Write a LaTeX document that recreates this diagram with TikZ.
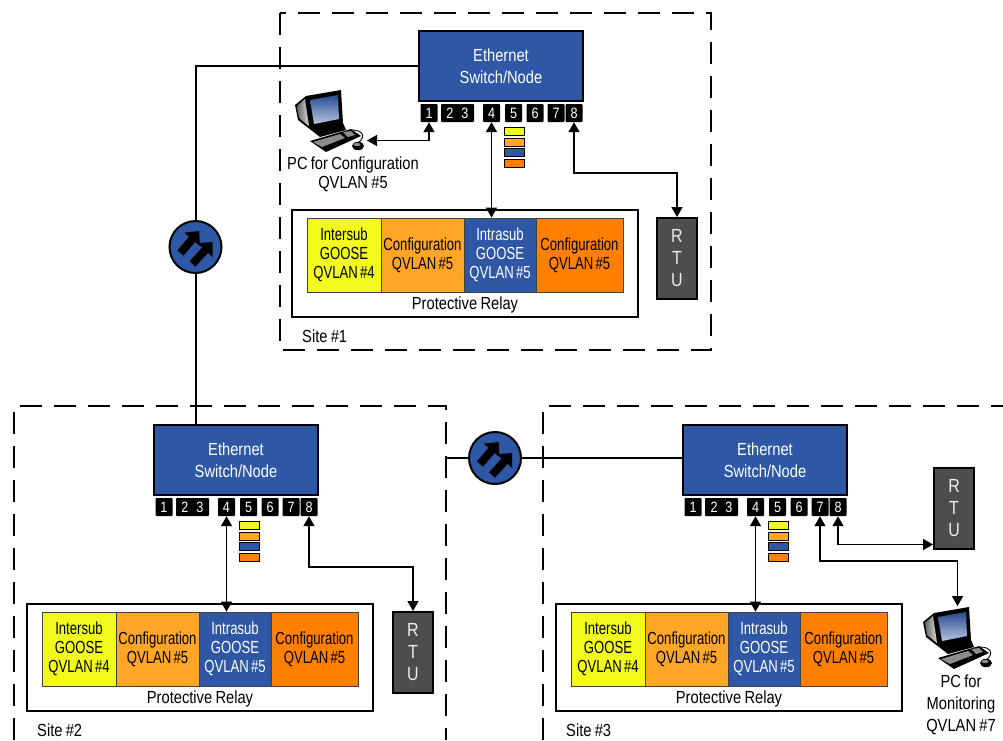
\documentclass[tikz,border=0pt]{standalone}
\usepackage{fontspec}
\setmainfont[FakeStretch=0.84,WordSpace=0.8]{Liberation Sans}
\newfontfamily\cellfont[FakeStretch=0.75,WordSpace=0.6]{Liberation Sans}
\usetikzlibrary{arrows.meta,calc}
\definecolor{swblue}{HTML}{2E57A6}
\definecolor{cyellow}{HTML}{F2FA1C}
\definecolor{clight}{HTML}{FFA626}
\definecolor{corange}{HTML}{FF7F00}
\definecolor{rtugray}{HTML}{4D4D4D}
\tikzset{
  sitebox/.style={line width=2.5pt,dash pattern=on 22pt off 12pt},
  switchbox/.style={draw=black,line width=2pt,fill=swblue,minimum width=164pt,minimum height=70pt,inner sep=0pt,text=white,align=center,font=\fontsize{17.5}{22}\selectfont},
  portbox/.style={fill=black,rounded corners=0.8pt,text=white,minimum height=18pt,inner sep=0pt,font=\fontsize{15}{16}\selectfont},
  minibar/.style={draw=black,line width=0.9pt,minimum width=20pt,minimum height=7.5pt,inner sep=0pt},
  relaybox/.style={draw=black,line width=2.5pt,fill=white,minimum width=346pt,minimum height=107pt,inner sep=0pt},
  cellbox/.style={draw=black!75,line width=0.8pt,minimum height=74pt,inner sep=0pt,align=center,font=\cellfont\fontsize{17.5}{19}\selectfont},
  plain label/.style={inner sep=0pt,align=center,font=\fontsize{17.5}{19}\selectfont},
  rtubox/.style={draw=black,line width=2pt,fill=rtugray,text=white!92!black,minimum width=40pt,minimum height=81pt,inner sep=0pt,align=center,font=\fontsize{19}{22}\selectfont},
  wire/.style={line width=1.5pt,draw=black},
  conn both/.style={wire,{Triangle[length=10pt,width=11pt]}-{Triangle[length=10pt,width=11pt]}},
  trunk/.style={line width=2pt,draw=black},
  bridge/.style={circle,draw=black,line width=2pt,fill=swblue,minimum size=52pt,inner sep=0pt},
  bridge arrow/.style={line width=8pt,draw=black,-{Triangle[length=11pt,width=20pt]}},
}
% one site's switch, ports, bars and relay (drawn in site #1 coordinates)
\newcommand{\siteblock}[2]{%
  \node[switchbox] (#1sw) at (501,66) {Ethernet\\Switch/Node};
  \node[portbox,minimum width=17pt] (#1p1) at (429,113) {1};
  \node[portbox,minimum width=33pt] (#1p23) at (457.5,113) {2\hspace{8pt}3};
  \node[portbox,minimum width=17pt] (#1p4) at (491.5,113) {4};
  \node[portbox,minimum width=17pt] (#1p5) at (513.5,113) {5};
  \node[portbox,minimum width=17pt] (#1p6) at (535,113) {6};
  \node[portbox,minimum width=17pt] (#1p7) at (556,113) {7};
  \node[portbox,minimum width=17pt] (#1p8) at (574,113) {8};
  \node[minibar,fill=cyellow] (#1m1) at (514,131.5) {};
  \node[minibar,fill=clight] (#1m2) at (514,142.5) {};
  \node[minibar,fill=swblue] (#1m3) at (514,152.5) {};
  \node[minibar,fill=corange] (#1m4) at (514,163.5) {};
  \node[relaybox] (#1rel) at (465,263.5) {};
  \node[cellbox,fill=cyellow,minimum width=74pt] (#1c1) at (344,255) {Intersub\\GOOSE\\QVLAN \#4};
  \node[cellbox,fill=clight,minimum width=83pt] (#1c2) at (422.5,255) {Configuration\\QVLAN \#5};
  \node[cellbox,fill=swblue,text=white,minimum width=72pt] (#1c3) at (500,255) {Intrasub\\GOOSE\\QVLAN \#5};
  \node[cellbox,fill=corange,minimum width=87pt] (#1c4) at (579.5,255) {Configuration\\QVLAN \#5};
  \node[plain label] (#1relname) at (465,305) {Protective Relay};
  \node[plain label,anchor=west] (#1name) at (302,336) {#2};
}
% desktop computer icon
\newcommand{\pcicon}[2]{%
  \begin{scope}[shift={(#1,#2)}]
    \fill[black] (295,105) -- (306,96) -- (341,90) -- (343,123) -- (346,130) -- (320,137) -- (311,130) -- (298,120) -- cycle;
    \shade[left color=black!60,right color=black!15] (297,106) -- (305,99) -- (309,126) -- (299,118) -- cycle;
    \shade[top color=swblue!85!black,bottom color=swblue!35!white] (310,100) -- (338,95) -- (339,119) -- (314,124) -- cycle;
    \fill[black] (310,141) -- (351,129) -- (361,136) -- (326,152) -- cycle;
    \fill[black!45] (313,142) -- (340,134) -- (345,138) -- (322,147) -- cycle;
    \fill[black!45] (343,132) -- (351,131) -- (355,135) -- (348,137) -- cycle;
    \draw[black,line width=0.9pt] (352,130) .. controls (362,130) and (367,136) .. (358,143);
    \fill[black] (358,146) ellipse [x radius=6pt,y radius=4.2pt];
    \fill[black!45] (357,144.5) ellipse [x radius=3.5pt,y radius=1.6pt];
  \end{scope}
}
\begin{document}
\begin{tikzpicture}[x=1pt,y=-1pt]
\useasboundingbox (0,0) rectangle (1003,740);
% site outlines
\coordinate (a1) at (280,13);
\coordinate (a2) at (711,350);
\draw[sitebox] (a1) rectangle (a2);
\coordinate (b1) at (14,740);
\coordinate (b2) at (14,406);
\coordinate (b3) at (446,406);
\coordinate (b4) at (446,740);
\draw[sitebox] (b1) -- (b2) -- (b3) -- (b4);
\coordinate (d1) at (543,740);
\coordinate (d2) at (543,406);
\coordinate (d3) at (1003,406);
\draw[sitebox] (d1) -- (d2) -- (d3);
% sites
\begin{scope}
  \siteblock{A}{Site \#1}
\end{scope}
\begin{scope}[shift={(-265,394)}]
  \siteblock{B}{Site \#2}
\end{scope}
\begin{scope}[shift={(264,394)}]
  \siteblock{C}{Site \#3}
\end{scope}
% RTUs
\node[rtubox] (Artu) at (677,258.5) {R\\T\\U};
\node[rtubox] (Brtu) at (413,652.5) {R\\T\\U};
\node[rtubox] (Crtu) at (954,508.5) {R\\T\\U};
% PCs
\pcicon{0}{0}
\pcicon{628}{517}
\coordinate (pcA) at (367,140.5);
\coordinate (pcC) at (957.5,606);
\node[plain label,font=\fontsize{17.5}{19}\selectfont] (pcAname) at (353,174.5) {PC for Configuration\\QVLAN \#5};
\node[plain label,font=\fontsize{17.5}{22}\selectfont] (pcCname) at (961,705) {PC for\\Monitoring\\QVLAN \#7};
% device connectors
\draw[conn both] (Ap1.south) |- (pcA);
\draw[conn both] (Ap4.south) -- (Ap4.south |- Ac3.north);
\draw[conn both] (Ap8.south) -- ++(0,51) -| (Artu.north);
\draw[conn both] (Bp4.south) -- (Bp4.south |- Bc3.north);
\draw[conn both] (Bp8.south) -- ++(0,51) -| (Brtu.north);
\draw[conn both] (Cp4.south) -- (Cp4.south |- Cc3.north);
\draw[conn both] (Cp8.south) |- ([yshift=-36pt]Crtu.west);
\draw[conn both] (Cp7.south) -- ++(0,45) -| (pcC);
% trunks and bridges
\node[bridge] (br1) at (195.5,247) {};
\node[bridge] (br2) at (495,458) {};
\coordinate (elbow) at (195.5,66);
\coordinate (siteedge) at (446,458);
\draw[trunk] (Asw.west) -- (elbow) -- (br1.north);
\draw[trunk] (br1.south) -- (br1.south |- Bsw.north);
\draw[trunk] (siteedge) -- (br2.west);
\draw[trunk] (br2.east) -- (br2.east -| Csw.west);
\foreach \b in {br1,br2}{
  \draw[bridge arrow] ([shift={(-15,6)}]\b.center) -- ([shift={(3.7,-16)}]\b.center);
  \draw[bridge arrow] ([shift={(-3,17)}]\b.center) -- ([shift={(17,-5)}]\b.center);
}
\end{tikzpicture}
\end{document}
